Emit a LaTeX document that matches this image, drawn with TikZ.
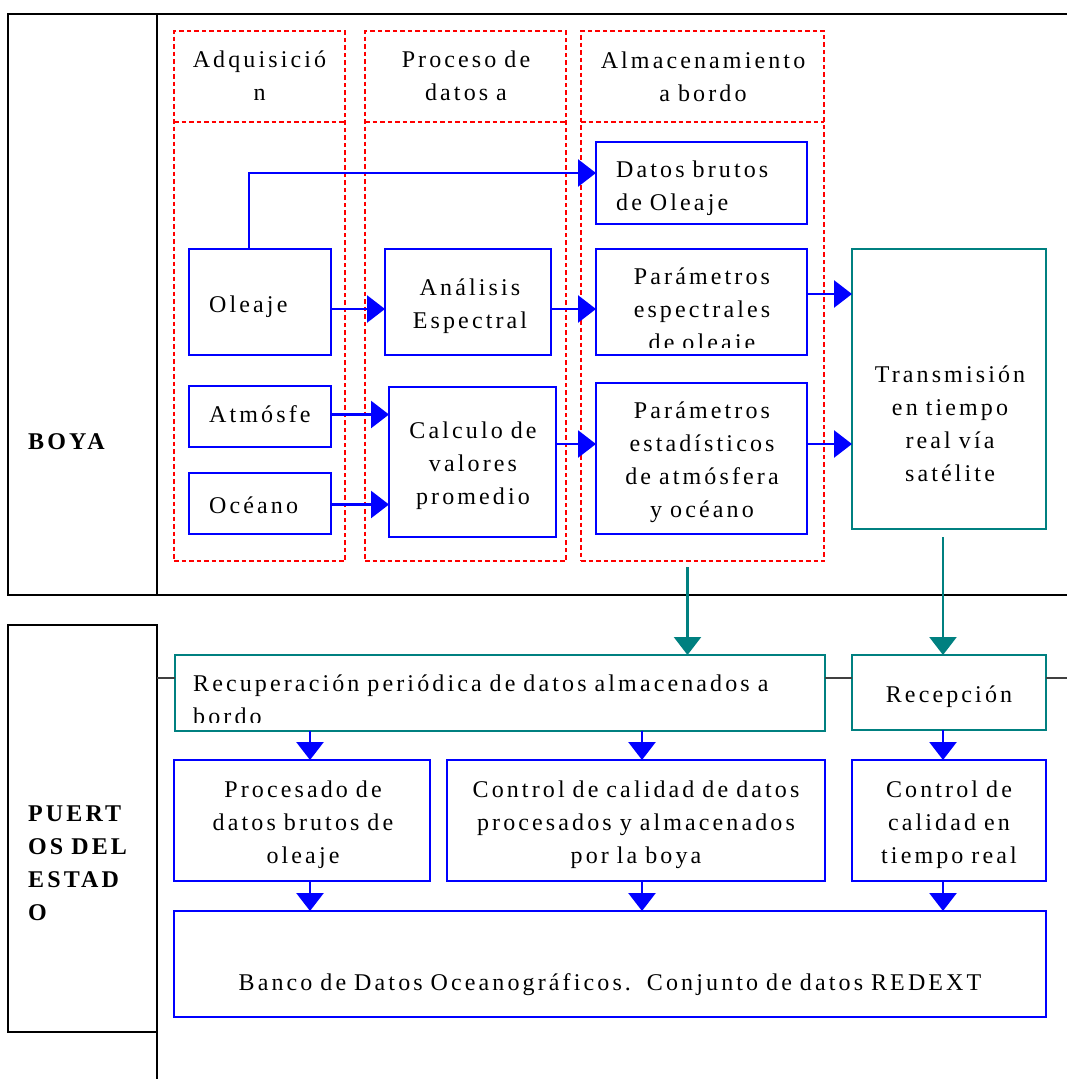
\documentclass[tikz,border=0pt]{standalone}
\usepackage{fontspec}
\setmainfont{Liberation Serif}[LetterSpace=13]
\usetikzlibrary{arrows.meta}
\newcommand\fs{\fontsize{24}{33}\selectfont}
\newcommand\mkbox[6]{\node[#1,anchor=north west,minimum width=#5pt-#3pt,minimum height=#6pt-#4pt] (#2) at (#3,#4) {};}
\tikzset{
  lane/.style={draw=black,line width=1.8pt},
  laneline/.style={draw=black!75,line width=1.2pt},
  grp/.style={draw=red,line width=1.6pt,dash pattern=on 4.5pt off 3pt,inner sep=0pt,outer sep=0pt},
  grpline/.style={draw=red,line width=1.6pt,dash pattern=on 4.5pt off 3pt},
  bbox/.style={draw=blue,line width=1.8pt,inner sep=0pt,outer sep=0pt},
  tbox/.style={draw=teal,line width=1.8pt,inner sep=0pt,outer sep=0pt},
  ctxt/.style={inner sep=0pt,font=\fs,text width=#1,align=center,anchor=base},
  ltxt/.style={inner sep=0pt,font=\fs,text width=900pt,align=left,anchor=base west},
  barrow/.style={draw=blue,line width=2.7pt,-{Triangle[length=18pt,width=27pt]}},
  tarrow/.style={draw=teal,line width=2.5pt,-{Triangle[length=18pt,width=27pt]}}
}
\hyphenpenalty=10000
\exhyphenpenalty=10000
\begin{document}
\begin{tikzpicture}[x=1pt,y=-1pt]
\useasboundingbox (0,0) rectangle (1066,1079);
% lanes
\draw[lane] (1070,14) -- (8,14) -- (8,595) -- (1070,595);
\draw[lane] (157,14) -- (157,595);
\draw[lane] (8,625) rectangle (157,1032);
\draw[lane] (157,1032) -- (157,1082);
\node[ltxt,font=\fs\bfseries] (lBoya) at (28,449) {BOYA};
\node[ltxt,font=\fs\bfseries] (lPuertos) at (28,821) {PUERT\\OS DEL\\ESTAD\\O};
% red dotted groups
\mkbox{grp}{gA}{174}{31}{345}{561}
\mkbox{grp}{gP}{365}{31}{566}{561}
\mkbox{grp}{gS}{581}{31}{824}{561}
\draw[grpline] (gA.west |- 0,122) -- (gA.east |- 0,122);
\draw[grpline] (gP.west |- 0,122) -- (gP.east |- 0,122);
\draw[grpline] (gS.west |- 0,122) -- (gS.east |- 0,122);
\node[ctxt=300pt] (hA) at (259.5,67) {Adquisició\\n};
\node[ctxt=300pt] (hP) at (466,67) {Proceso de\\datos a};
\node[ctxt=300pt] (hS) at (703,68) {Almacenamiento\\a bordo};
% blue boxes top lane
\mkbox{bbox}{bOl}{189}{249}{331}{355}
\mkbox{bbox}{bAn}{385}{249}{551}{355}
\mkbox{bbox}{bDB}{596}{142}{807}{224}
\mkbox{bbox}{bPE}{596}{249}{807}{355}
\mkbox{bbox}{bAt}{189}{386}{331}{447}
\mkbox{bbox}{bOc}{189}{473}{331}{534}
\mkbox{bbox}{bCa}{389}{387}{556}{537}
\mkbox{bbox}{bPS}{596}{383}{807}{534}
\mkbox{tbox}{bTr}{852}{249}{1046}{529}
\node[ltxt] (tOl) at (209,312) {Oleaje};
\node[ctxt=300pt] (tAn) at (470,295) {Análisis\\Espectral};
\node[ltxt] (tDB) at (616,177) {Datos brutos\\de Oleaje};
\begin{scope}
\clip (596,249) rectangle (807,347);
\node[ctxt=300pt] (tPE) at (702,284) {Parámetros\\espectrales\\de oleaje};
\end{scope}
\node[ltxt] (tAt) at (209,422) {Atmósfe};
\node[ltxt] (tOc) at (209,513) {Océano};
\node[ctxt=300pt] (tCa) at (473,438) {Calculo de\\valores\\promedio};
\node[ctxt=300pt] (tPS) at (702,418) {Parámetros\\estadísticos\\de atmósfera\\y océano};
\node[ctxt=300pt] (tTr) at (950,382) {Transmisión\\en tiempo\\real vía\\satélite};
% arrows top lane
\draw[barrow] ([xshift=-11pt]bOl.north) |- ([yshift=10pt]bDB.west);
\draw[barrow] ([yshift=-7pt]bOl.east) -- ([yshift=-7pt]bOl.east -| bAn.west);
\draw[barrow] ([yshift=-7pt]bAn.east) -- ([yshift=-7pt]bAn.east -| bPE.west);
\draw[barrow] ([yshift=8pt]bPE.east) -- ([yshift=8pt]bPE.east -| bTr.west);
\draw[barrow] ([yshift=2pt]bAt.east) -- ([yshift=2pt]bAt.east -| bCa.west);
\draw[barrow] ([yshift=-1pt]bOc.east) -- ([yshift=-1pt]bOc.east -| bCa.west);
\draw[barrow] ([yshift=18pt]bCa.east) -- ([yshift=18pt]bCa.east -| bPS.west);
\draw[barrow] ([yshift=14.5pt]bPS.east) -- ([yshift=14.5pt]bPS.east -| bTr.west);
% bottom lane boxes
\mkbox{tbox}{bRe}{175}{655}{825}{731}
\mkbox{tbox}{bRc}{852}{655}{1046}{730}
\mkbox{bbox}{bPr}{174}{760}{430}{881}
\mkbox{bbox}{bCc}{447}{760}{825}{881}
\mkbox{bbox}{bCr}{852}{760}{1046}{881}
\mkbox{bbox}{bBa}{174}{911}{1046}{1017}
\draw[laneline] (157,678) -- (bRe.west |- 0,678);
\draw[laneline] (bRe.east |- 0,678) -- (bRc.west |- 0,678);
\draw[laneline] (bRc.east |- 0,678) -- (1070,678);
\begin{scope}
\clip (175,655) rectangle (825,722);
\node[ltxt] (tRe) at (193,691) {Recuperación periódica de datos almacenados a\\bordo};
\end{scope}
\node[ctxt=300pt] (tRc) at (949,702) {Recepción};
\node[ctxt=300pt] (tPr) at (303,797) {Procesado de\\datos brutos de\\oleaje};
\node[ctxt=400pt] (tCc) at (636,797) {Control de calidad de datos\\procesados y almacenados\\por la boya};
\node[ctxt=300pt] (tCr) at (949,797) {Control de\\calidad en\\tiempo real};
\node[ctxt=900pt] (tBa) at (610,990) {Banco de Datos Oceanográficos.\ \ Conjunto de datos REDEXT};
% teal arrows
\draw[tarrow] ([xshift=-15pt,yshift=-6pt]gS.south) -- ([xshift=-15pt]gS.south |- bRe.north);
\draw[tarrow] ([xshift=-6pt,yshift=-8pt]bTr.south) -- ([xshift=-6pt]bTr.south |- bRc.north);
% blue arrows bottom lane
\draw[barrow] ([xshift=8pt]bPr.north |- bRe.south) -- ([xshift=8pt]bPr.north);
\draw[barrow] ([xshift=6pt]bCc.north |- bRe.south) -- ([xshift=6pt]bCc.north);
\draw[barrow] ([xshift=-6pt]bCr.north |- bRc.south) -- ([xshift=-6pt]bCr.north);
\draw[barrow] ([xshift=8pt]bPr.south) -- ([xshift=8pt]bPr.south |- bBa.north);
\draw[barrow] ([xshift=6pt]bCc.south) -- ([xshift=6pt]bCc.south |- bBa.north);
\draw[barrow] ([xshift=-6pt]bCr.south) -- ([xshift=-6pt]bCr.south |- bBa.north);
\end{tikzpicture}
\end{document}
